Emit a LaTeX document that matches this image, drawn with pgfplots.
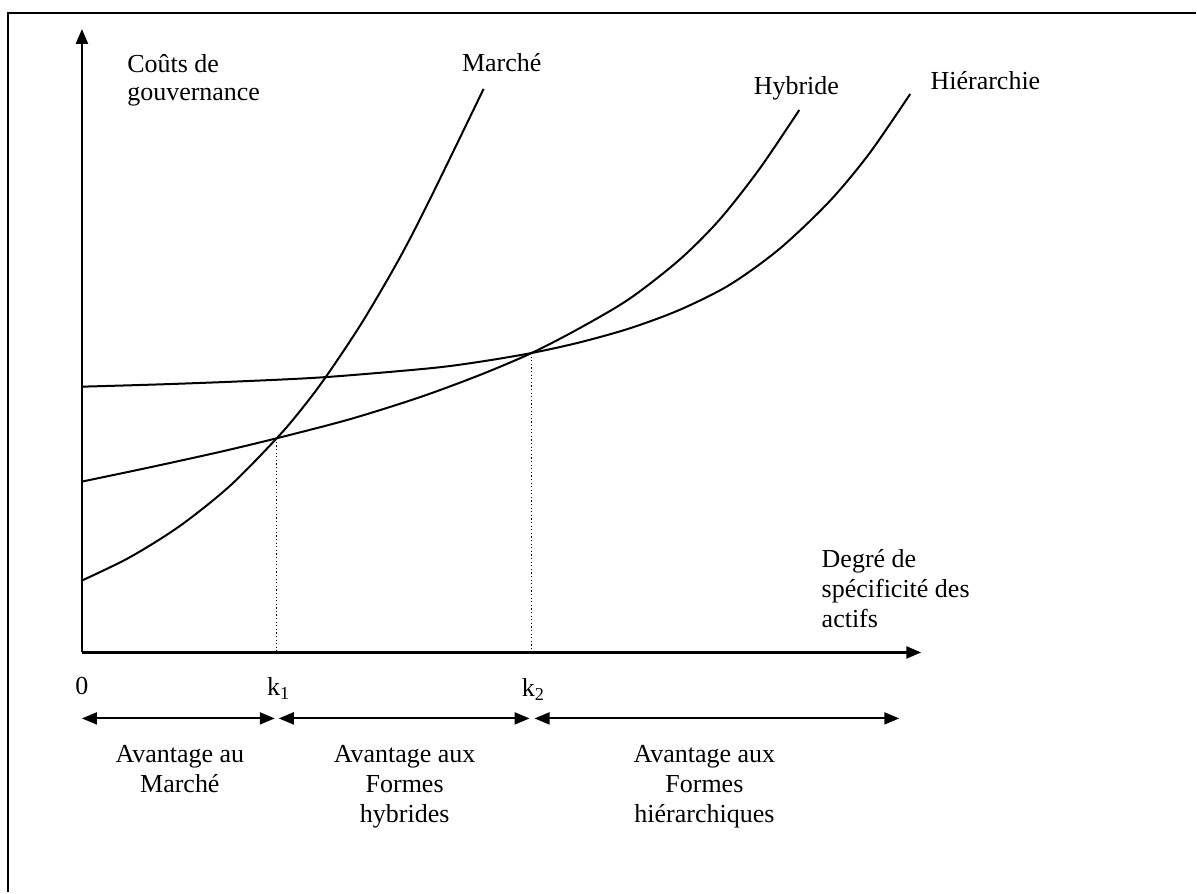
\documentclass[border=0pt]{standalone}
\usepackage{fontspec}
\setmainfont{Liberation Serif}
\usepackage{pgfplots}
\pgfplotsset{compat=1.18}
\usetikzlibrary{arrows.meta}

% curves, in pixel units (y grows downwards)
\pgfplotstableread{
x y
82 581
130 557.7
180 526.4
230 486.4
277 438.6
301 410.5
326 377.4
363 321.7
400 258.2
430 200
484 89
}\marche
\pgfplotstableread{
x y
82 482
150 467.7
220 452.3
277 438.6
350 419.6
420 397.6
480 375.4
532 353.3
580 328.5
630 299
680 260
720 220
760 169.2
800 110
}\hybride
\pgfplotstableread{
x y
82 387
160 384.7
240 381.7
326 377.4
430 368.6
480 362.1
532 353.3
580 342.7
630 328.7
680 310.2
730 285.2
780 249.2
830 201.7
870 153.7
911 94
}\hierarchie

\tikzset{
  lbl/.style={font=\fontsize{13}{15}\selectfont, inner sep=0pt},
  >={Triangle[length=7.5pt,width=6pt]},
}

\begin{document}
\begin{tikzpicture}
\begin{axis}[
  scale only axis,
  width=598.5pt, height=446.5pt,
  xmin=0, xmax=1197, ymin=0, ymax=893,
  y dir=reverse,
  hide axis,
  clip=false,
]
\path (axis cs:0,0) rectangle (axis cs:1197,893);
% frame
\draw[line width=1pt] (axis cs:8,893) -- (axis cs:8,13) -- (axis cs:1197,13);
% axes
\draw[line width=1.25pt, ->] (axis cs:82,653) -- (axis cs:82,29);
\draw[line width=1.25pt, ->] (axis cs:82,653) -- (axis cs:922,653);
% curves
\addplot[black, line width=1pt, smooth] table {\marche};
\addplot[black, line width=1pt, smooth] table {\hybride};
\addplot[black, line width=1pt, smooth] table {\hierarchie};
% dotted guides
\draw[line width=0.6pt, dash pattern=on 0.6pt off 1.2pt] (axis cs:277,438.6) -- (axis cs:277,653);
\draw[line width=0.6pt, dash pattern=on 0.6pt off 1.2pt] (axis cs:532,353.3) -- (axis cs:532,653);
% labels
\node[lbl, anchor=base west] at (axis cs:127,73) {Coûts de};
\node[lbl, anchor=base west] at (axis cs:127,101) {gouvernance};
\node[lbl, anchor=base west] at (axis cs:462,72) {Marché};
\node[lbl, anchor=base west] at (axis cs:754,95) {Hybride};
\node[lbl, anchor=base west] at (axis cs:931,90) {Hiérarchie};
\node[lbl, anchor=base west] at (axis cs:822,568) {Degré de};
\node[lbl, anchor=base west] at (axis cs:822,598) {spécificité des};
\node[lbl, anchor=base west] at (axis cs:822,628) {actifs};
\node[lbl, anchor=base west] at (axis cs:75,695) {0};
\node[lbl, anchor=base west] at (axis cs:267,696) {k\textsubscript{1}};
\node[lbl, anchor=base west] at (axis cs:522,697) {k\textsubscript{2}};
% advantage ranges
\draw[line width=1pt, <->] (axis cs:82,719) -- (axis cs:275,719);
\draw[line width=1pt, <->] (axis cs:279,719) -- (axis cs:530,719);
\draw[line width=1pt, <->] (axis cs:535,719) -- (axis cs:900,719);
\node[lbl, anchor=base] at (axis cs:180,763) {Avantage au};
\node[lbl, anchor=base] at (axis cs:180,793) {Marché};
\node[lbl, anchor=base] at (axis cs:405,763) {Avantage aux};
\node[lbl, anchor=base] at (axis cs:405,793) {Formes};
\node[lbl, anchor=base] at (axis cs:405,823) {hybrides};
\node[lbl, anchor=base] at (axis cs:705,763) {Avantage aux};
\node[lbl, anchor=base] at (axis cs:705,793) {Formes};
\node[lbl, anchor=base] at (axis cs:705,823) {hiérarchiques};
\end{axis}
\end{tikzpicture}
\end{document}
